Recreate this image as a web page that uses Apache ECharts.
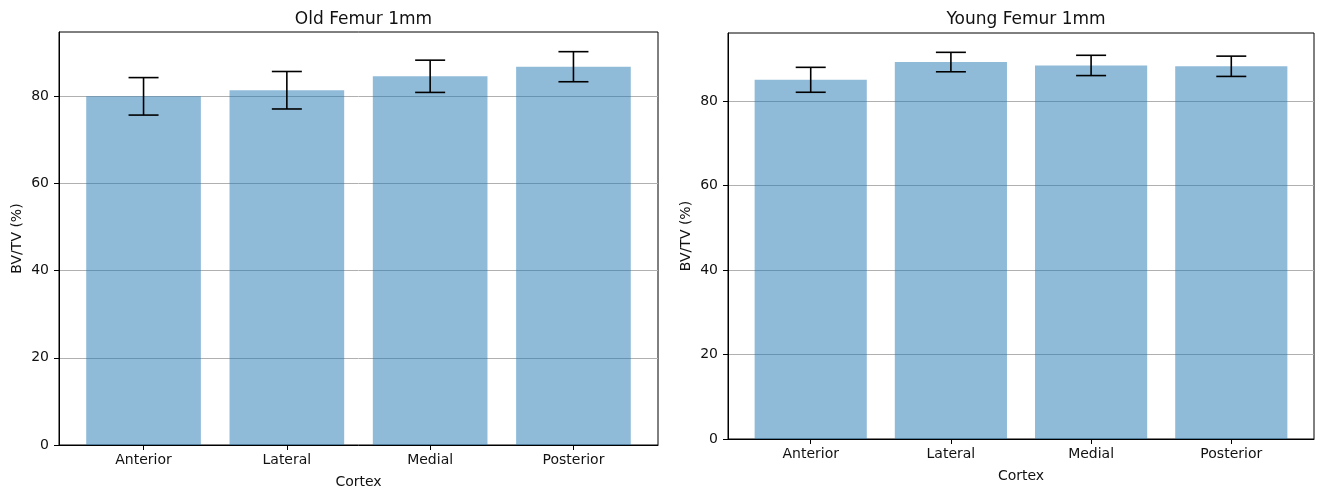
<!DOCTYPE html>
<html>
<head>
<meta charset="utf-8">
<script src="https://cdn.jsdelivr.net/npm/echarts@6/dist/echarts.min.js"></script>
<style>html,body{margin:0;padding:0;background:#fff}#c{width:1324px;height:494px}</style>
</head>
<body>
<div id="c"></div>
<script>
const categories = ['Anterior', 'Lateral', 'Medial', 'Posterior'];
const oldMeans = [80.0, 81.4, 84.6, 86.8];
const oldErr = [4.3, 4.3, 3.7, 3.45];
const youngMeans = [85.0, 89.2, 88.4, 88.2];
const youngErr = [2.95, 2.3, 2.4, 2.4];
const yTicks = [0, 20, 40, 60, 80];
const titles = ['Old Femur 1mm', 'Young Femur 1mm'];

const FONT = 'DejaVu Sans';
const barColor = 'rgba(31,119,180,0.5)';

function yMaxOf(m, e) {
  let mx = 0;
  for (let i = 0; i < m.length; i++) mx = Math.max(mx, m[i] + e[i]);
  return mx * 1.05;
}

const grids = [
  { left: 59, top: 32, width: 599, height: 414 },
  { left: 728, top: 33, width: 586, height: 406 }
];

function xAxisFor(idx) {
  return {
    type: 'value', gridIndex: idx, min: -0.59, max: 3.59,
    name: 'Cortex', nameLocation: 'middle', nameGap: 30,
    nameTextStyle: { fontFamily: FONT, fontSize: 14, color: '#111' },
    axisLine: { show: true, onZero: false, lineStyle: { color: '#000', width: 1 } },
    axisTick: { show: true, length: 5, customValues: [0, 1, 2, 3], lineStyle: { color: '#000' } },
    axisLabel: { customValues: [0, 1, 2, 3], formatter: v => categories[Math.round(v)] || '',
      fontFamily: FONT, fontSize: 14, color: '#111', margin: 8 },
    splitLine: { show: false }
  };
}
function yAxisFor(idx, max) {
  return {
    type: 'value', gridIndex: idx, min: 0, max: max, interval: 20,
    name: 'BV/TV (%)', nameLocation: 'middle', nameGap: 35,
    nameTextStyle: { fontFamily: FONT, fontSize: 14, color: '#111' },
    axisLine: { show: true, onZero: false, lineStyle: { color: '#000', width: 1 } },
    axisTick: { show: true, length: 5, customValues: yTicks, lineStyle: { color: '#000' } },
    axisLabel: { customValues: yTicks, fontFamily: FONT, fontSize: 14, color: '#111', margin: 10 },
    splitLine: { show: true, lineStyle: { color: '#b0b0b0', width: 1 } }
  };
}

function barSeries(idx, means) {
  return {
    type: 'custom', xAxisIndex: idx, yAxisIndex: idx, z: 2,
    data: means.map((v, i) => [i, v]),
    renderItem: function (params, api) {
      const i = api.value(0), v = api.value(1);
      const p1 = api.coord([i - 0.4, v]);
      const p2 = api.coord([i + 0.4, 0]);
      return { type: 'rect', shape: { x: p1[0], y: p1[1], width: p2[0] - p1[0], height: p2[1] - p1[1] },
        style: { fill: barColor } };
    }
  };
}
function errSeries(idx, means, errs) {
  return {
    type: 'custom', xAxisIndex: idx, yAxisIndex: idx, z: 3,
    data: means.map((v, i) => [i, v - errs[i], v + errs[i]]),
    renderItem: function (params, api) {
      const i = api.value(0);
      const lo = api.coord([i, api.value(1)]);
      const hi = api.coord([i, api.value(2)]);
      const cap = 15;
      const st = { stroke: '#000', lineWidth: 1.6 };
      return { type: 'group', children: [
        { type: 'line', shape: { x1: lo[0], y1: lo[1], x2: hi[0], y2: hi[1] }, style: st },
        { type: 'line', shape: { x1: lo[0] - cap, y1: lo[1], x2: lo[0] + cap, y2: lo[1] }, style: st },
        { type: 'line', shape: { x1: hi[0] - cap, y1: hi[1], x2: hi[0] + cap, y2: hi[1] }, style: st }
      ] };
    }
  };
}

const chart = echarts.init(document.getElementById('c'), null, { renderer: 'canvas' });
chart.setOption({
  animation: false,
  backgroundColor: '#fff',
  title: titles.map((t, k) => ({
    text: t, left: grids[k].left + grids[k].width / 2, top: 6, textAlign: 'center',
    textStyle: { fontFamily: FONT, fontSize: 17, fontWeight: 'normal', color: '#111' }
  })),
  grid: grids.map(g => Object.assign({ show: true, borderColor: '#000', borderWidth: 1, backgroundColor: 'transparent' }, g)),
  xAxis: [xAxisFor(0), xAxisFor(1)],
  yAxis: [yAxisFor(0, yMaxOf(oldMeans, oldErr)), yAxisFor(1, yMaxOf(youngMeans, youngErr))],
  series: [
    barSeries(0, oldMeans), errSeries(0, oldMeans, oldErr),
    barSeries(1, youngMeans), errSeries(1, youngMeans, youngErr)
  ]
});
</script>
</body>
</html>
